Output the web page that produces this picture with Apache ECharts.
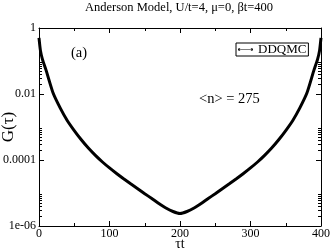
<!DOCTYPE html>
<html>
<head>
<meta charset="utf-8">
<script src="https://cdn.jsdelivr.net/npm/echarts@6/dist/echarts.min.js"></script>
<style>html,body{margin:0;padding:0;background:#fff;}#c{width:332px;height:252px;}</style>
</head>
<body>
<div id="c"></div>
<script>
const titleText = 'Anderson Model, U/t=4, \u03bc=0, \u03b2t=400';
const seriesName = 'DDQMC';
const tauValues = [0, 2, 5, 10, 20, 30, 40, 50, 60, 70, 80, 90, 100, 110, 120, 130, 140, 150, 160, 170, 180, 190, 200,
  210, 220, 230, 240, 250, 260, 270, 280, 290, 300, 310, 320, 330, 340, 350, 360, 370, 380, 390, 395, 398, 400];
const gValues = [0.5, 0.21, 0.11, 0.053, 0.0107, 0.0038, 0.00158, 7.8e-4, 4.1e-4, 2.3e-4, 1.38e-4, 8.7e-5, 5.75e-5, 3.9e-5, 2.7e-5, 1.9e-5, 1.35e-5, 9.5e-6, 6.8e-6, 4.8e-6, 3.5e-6, 2.75e-6, 2.4e-6,
  2.75e-6, 3.5e-6, 4.8e-6, 6.8e-6, 9.5e-6, 1.35e-5, 1.9e-5, 2.7e-5, 3.9e-5, 5.75e-5, 8.7e-5, 1.38e-4, 2.3e-4, 4.1e-4, 7.8e-4, 0.00158, 0.0038, 0.0107, 0.053, 0.11, 0.21, 0.5];
const yTickExponents = [0, -2, -4, -6];
const yTickLabels = ['1', '0.01', '0.0001', '1e-06'];
const yMinorTicks = [2e-6, 3e-6, 4e-6, 5e-6, 6e-6, 7e-6, 8e-6, 9e-6,
  2e-4, 3e-4, 4e-4, 5e-4, 6e-4, 7e-4, 8e-4, 9e-4,
  0.02, 0.03, 0.04, 0.05, 0.06, 0.07, 0.08, 0.09];
const annotationA = '(a)';
const annotationN = '<n> = 275';

const font = 'Liberation Serif';
const black = '#000';
const data = tauValues.map((t, i) => [t, gValues[i]]);

function yLabel(v) {
  const e = Math.round(Math.log10(v));
  const idx = yTickExponents.indexOf(e);
  return idx >= 0 ? yTickLabels[idx] : '';
}

const baseX = {
  type: 'value', min: 0, max: 400, interval: 100,
  axisLine: { show: true, lineStyle: { color: black, width: 1 } },
  axisTick: { show: true, inside: true, length: 5, lineStyle: { color: black } },
  minorTick: { show: true, splitNumber: 2, length: 3, lineStyle: { color: black } },
  splitLine: { show: false }, minorSplitLine: { show: false }
};
const baseY = {
  type: 'log', logBase: 10, min: 1e-6, max: 1, interval: 2,
  axisLine: { show: true, lineStyle: { color: black, width: 1 } },
  axisTick: { show: true, inside: true, length: 5, lineStyle: { color: black } },
  splitLine: { show: false }
};
const minorY = {
  type: 'log', logBase: 10, min: 1e-6, max: 1, interval: 2,
  axisLine: { show: false },
  axisTick: { show: true, inside: true, length: 3, customValues: yMinorTicks, lineStyle: { color: black } },
  axisLabel: { show: false },
  splitLine: { show: false }
};

const chart = echarts.init(document.getElementById('c'), null, { renderer: 'canvas' });
chart.setOption({
  animation: false,
  backgroundColor: '#fff',
  title: {
    text: titleText, left: 179, top: 1, textAlign: 'center', padding: 0,
    textStyle: { fontFamily: font, fontSize: 12.5, fontWeight: 'normal', color: black }
  },
  legend: {
    data: [seriesName], left: 236, top: 43, padding: [0, 2], itemGap: 0,
    itemWidth: 15, itemHeight: 5,
    icon: 'path://M2,2.2h16v0.8h-16z M0,2.6a1.6,1.6 0 1,0 3.2,0a1.6,1.6 0 1,0 -3.2,0z M16.8,2.6a1.6,1.6 0 1,0 3.2,0a1.6,1.6 0 1,0 -3.2,0z',
    borderColor: black, borderWidth: 1, borderRadius: 0,
    textStyle: { fontFamily: font, fontSize: 13, color: black, lineHeight: 11, padding: [1, 0, 0, 0] }
  },
  grid: { left: 39, right: 11, top: 28, bottom: 26, containLabel: false, outerBoundsMode: 'none' },
  xAxis: [
    Object.assign({}, baseX, {
      position: 'bottom',
      axisLabel: { show: true, fontFamily: font, fontSize: 12, color: black, margin: 2 },
      name: '\u03c4t', nameLocation: 'middle', nameGap: 18, nameMoveOverlap: false,
      nameTextStyle: { fontFamily: font, fontSize: 14, color: black, verticalAlign: 'middle', lineHeight: 14 }
    }),
    Object.assign({}, baseX, { position: 'top', axisLabel: { show: false } })
  ],
  yAxis: [
    Object.assign({}, baseY, {
      position: 'left',
      axisLabel: { show: true, fontFamily: font, fontSize: 12, color: black, margin: 3, formatter: yLabel },
      name: 'G(\u03c4)', nameLocation: 'middle', nameGap: 22, nameRotate: 90, nameMoveOverlap: false,
      nameTextStyle: { fontFamily: font, fontSize: 17, color: black }
    }),
    Object.assign({}, minorY, { position: 'left' }),
    Object.assign({}, baseY, { position: 'right', axisLabel: { show: false } }),
    Object.assign({}, minorY, { position: 'right' })
  ],
  graphic: [
    { type: 'text', left: 71, top: 46, style: { text: annotationA, fontFamily: font, fontSize: 14.5, fill: black } },
    { type: 'text', left: 199, top: 92, style: { text: annotationN, fontFamily: font, fontSize: 14.5, fill: black } }
  ],
  series: [{
    name: seriesName, type: 'line', xAxisIndex: 0, yAxisIndex: 0,
    data: data, showSymbol: false, symbol: 'circle', symbolSize: 3,
    smooth: 0.2,
    lineStyle: { color: black, width: 3 }, itemStyle: { color: black }
  }]
});
</script>
</body>
</html>
